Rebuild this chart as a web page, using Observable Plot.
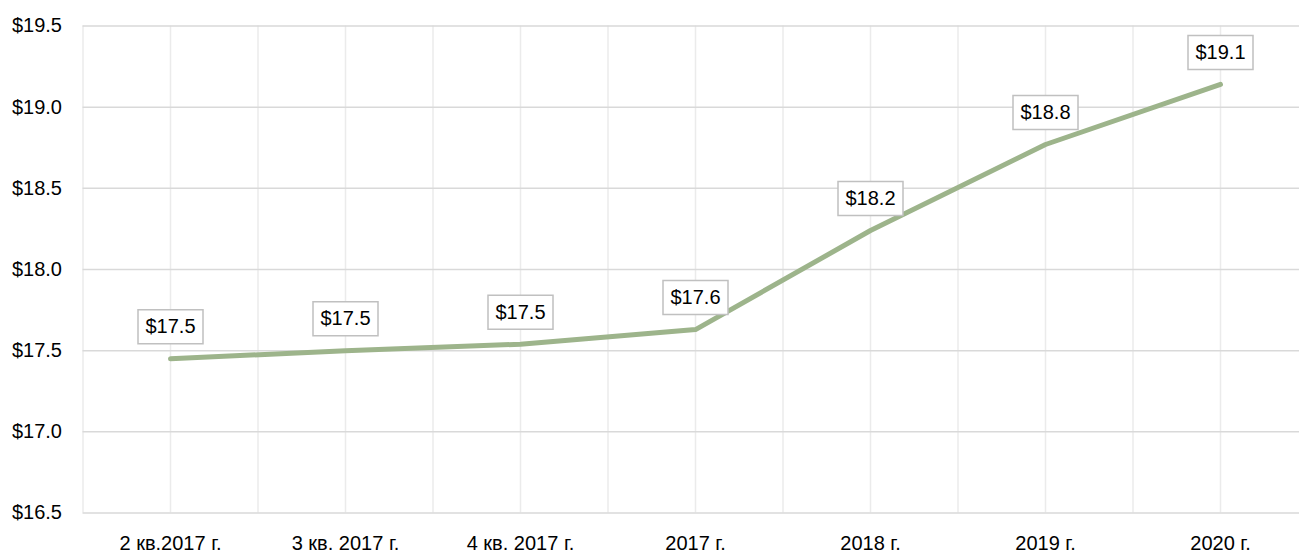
<!DOCTYPE html>
<html>
<head>
<meta charset="utf-8">
<script src="https://cdn.jsdelivr.net/npm/d3@7"></script>
<script src="https://cdn.jsdelivr.net/npm/@observablehq/plot@0.6"></script>
<style>
  html, body { margin: 0; padding: 0; background: #fff; }
  #chart { width: 1299px; height: 556px; overflow: hidden; }
</style>
</head>
<body>
<div id="chart"></div>
<script>
const categories = ["2 кв.2017 г.", "3 кв. 2017 г.", "4 кв. 2017 г.", "2017 г.", "2018 г.", "2019 г.", "2020 г."];
const values = [17.45, 17.50, 17.54, 17.63, 18.24, 18.77, 19.14];
const labels = ["$17.5", "$17.5", "$17.5", "$17.6", "$18.2", "$18.8", "$19.1"];
const yTicks = [16.5, 17.0, 17.5, 18.0, 18.5, 19.0, 19.5];

const data = categories.map((c, i) => ({ i, category: c, value: values[i], label: labels[i] }));
const xIdx = categories.map((_, i) => i);
const xGrid = d3.range(-0.5, categories.length, 0.5);

const boxSymbol = {
  draw(context) {
    context.moveTo(-32.5, -17);
    context.lineTo(32.5, -17);
    context.lineTo(32.5, 17);
    context.lineTo(-32.5, 17);
    context.closePath();
  }
};

const chart = Plot.plot({
  width: 1299,
  height: 556,
  marginTop: 25.5,
  marginBottom: 43.5,
  marginLeft: 82.5,
  marginRight: 0,
  style: { fontFamily: "'Liberation Sans', Arial, sans-serif", fontSize: "20px", color: "#000", background: "#fff" },
  x: { type: "linear", domain: [-0.5, categories.length - 0.5], range: [82.5, 1307.5] },
  y: { domain: [16.5, 19.5], range: [512.5, 25.5] },
  marks: [
    Plot.ruleX(xGrid, { x: d => d, stroke: "#ebebeb", strokeWidth: 1.5 }),
    Plot.ruleY(yTicks, { y: d => d, stroke: "#d9d9d9", strokeWidth: 1.5 }),
    Plot.axisY({ ticks: yTicks, tickSize: 0, tickPadding: 21, tickFormat: d => "$" + d.toFixed(1), label: null, fontSize: 20 }),
    Plot.axisX({ ticks: xIdx, tickSize: 0, tickPadding: 23, tickFormat: i => categories[i], label: null, fontSize: 20 }),
    Plot.line(data, { x: "i", y: "value", stroke: "#9db48b", strokeWidth: 5, strokeLinejoin: "round", strokeLinecap: "round" }),
    Plot.dot(data, { x: "i", y: "value", symbol: boxSymbol, r: 10, dy: -32, fill: "#fff", stroke: "#c0c0c0", strokeWidth: 1.5 }),
    Plot.text(data, { x: "i", y: "value", text: "label", dy: -32, fontSize: 20, fill: "#000" })
  ]
});
document.getElementById("chart").appendChild(chart);
</script>
</body>
</html>
